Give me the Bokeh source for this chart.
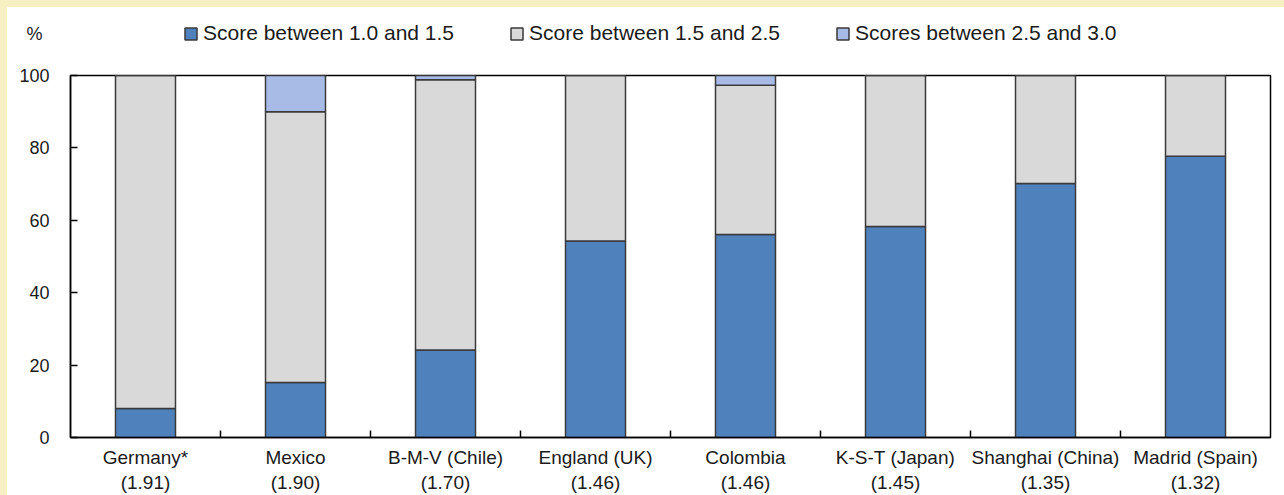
from bokeh.plotting import figure
from bokeh.models import (ColumnDataSource, Range1d, FixedTicker, Legend, LegendItem, Div)
from bokeh.layouts import column, row
from bokeh.embed import file_html
from bokeh.resources import INLINE

# ---- data ----
categories = ["Germany*", "Mexico", "B-M-V (Chile)", "England (UK)", "Colombia",
              "K-S-T (Japan)", "Shanghai (China)", "Madrid (Spain)"]
mean_scores = ["1.91", "1.90", "1.70", "1.46", "1.46", "1.45", "1.35", "1.32"]
score_10_15 = [8.0, 15.2, 24.2, 54.3, 56.1, 58.3, 70.2, 77.7]
score_15_25 = [92.0, 74.8, 74.6, 45.7, 41.2, 41.7, 29.8, 22.3]
score_25_30 = [0.0, 10.0, 1.2, 0.0, 2.7, 0.0, 0.0, 0.0]
series_labels = ["Score between 1.0 and 1.5", "Score between 1.5 and 2.5",
                 "Scores between 2.5 and 3.0"]
y_ticks = [0, 20, 40, 60, 80, 100]
unit_label = "%"

colors = ["#4F81BD", "#D9D9D9", "#A8BBE6"]
BAR_LINE = "#3a3a3a"
YELLOW = "#F7F0C2"
FONT = "Liberation Sans"
TXT = "#1a1a1a"

W = 1277
HDR_H = 58
MAIN_H = 488 - HDR_H

n = len(categories)
xpos = [i + 0.5 for i in range(n)]
src = ColumnDataSource(dict(x=xpos, a=score_10_15, b=score_15_25, c=score_25_30))

# ---- main chart ----
p = figure(width=W, height=MAIN_H, output_backend="svg", toolbar_location=None,
           x_range=Range1d(0, n), y_range=Range1d(0, 100),
           min_border_left=63, min_border_right=14, min_border_top=10,
           min_border_bottom=57)
p.background_fill_color = "white"
p.border_fill_color = "white"
p.outline_line_color = "black"
p.outline_line_width = 1.5
p.xgrid.visible = False
p.ygrid.visible = False

p.vbar_stack(["a", "b", "c"], x="x", width=0.4, source=src, color=colors,
             line_color=BAR_LINE, line_width=1.5)

p.xaxis.ticker = FixedTicker(ticks=xpos, minor_ticks=[i for i in range(1, n)])
p.xaxis.major_label_overrides = {x: f"{c}\n({s})" for x, c, s in zip(xpos, categories, mean_scores)}
p.xaxis.major_tick_line_color = None
p.xaxis.minor_tick_in = 7
p.xaxis.minor_tick_out = 0
p.xaxis.minor_tick_line_color = "black"
p.xaxis.minor_tick_line_width = 1.5
p.xaxis.axis_line_color = "black"
p.xaxis.axis_line_width = 1.5
p.xaxis.major_label_text_font = FONT
p.xaxis.major_label_text_font_size = "19px"
p.xaxis.major_label_text_color = TXT
p.xaxis.major_label_standoff = 3

p.yaxis.ticker = FixedTicker(ticks=y_ticks, minor_ticks=[])
p.yaxis.major_tick_in = 7
p.yaxis.major_tick_out = 0
p.yaxis.major_tick_line_color = "black"
p.yaxis.major_tick_line_width = 1.5
p.yaxis.axis_line_color = "black"
p.yaxis.axis_line_width = 1.5
p.yaxis.major_label_text_font = FONT
p.yaxis.major_label_text_font_size = "18px"
p.yaxis.major_label_text_color = TXT
p.yaxis.major_label_standoff = 21

# ---- header: legend and unit label ----
hdr = figure(width=W, height=HDR_H, output_backend="svg", toolbar_location=None,
             x_range=Range1d(0, n), y_range=Range1d(0, 100),
             x_axis_location=None, y_axis_location="left",
             min_border_left=63, min_border_right=14, min_border_top=0,
             min_border_bottom=6)
hdr.outline_line_color = None
hdr.xgrid.visible = False
hdr.ygrid.visible = False
hdr.background_fill_color = "white"
hdr.border_fill_color = "white"
hdr.yaxis.ticker = FixedTicker(ticks=[], minor_ticks=[])
hdr.yaxis.axis_line_color = None
hdr.yaxis.major_tick_line_color = None
hdr.yaxis.minor_tick_line_color = None
hdr.yaxis.major_tick_out = 0
hdr.yaxis.major_label_standoff = 0
hdr.yaxis.axis_label = unit_label
hdr.yaxis.axis_label_orientation = "horizontal"
hdr.yaxis.axis_label_standoff = 28
hdr.yaxis.axis_label_text_font = FONT
hdr.yaxis.axis_label_text_font_size = "18px"
hdr.yaxis.axis_label_text_font_style = "normal"
hdr.yaxis.axis_label_text_color = TXT

# legend swatches: same stacked renderers, kept hidden in the header
proxies = hdr.vbar_stack(["a", "b", "c"], x="x", width=0.4, source=src, color=colors,
                         line_color=BAR_LINE, line_width=1.5, visible=False)

legend = Legend(items=[LegendItem(label=l, renderers=[r]) for l, r in zip(series_labels, proxies)],
                orientation="horizontal", location=(113, 14),
                glyph_width=15, glyph_height=15, label_standoff=5, spacing=55,
                padding=0, margin=0, border_line_color=None, background_fill_alpha=0,
                inactive_fill_alpha=0,
                label_text_font=FONT, label_text_font_size="21px",
                label_text_color=TXT)
hdr.add_layout(legend, "center")

top_strip = Div(text="", width=1284, height=7, margin=0,
                styles={"background-color": YELLOW})
left_strip = Div(text="", width=7, height=488, margin=0,
                 styles={"background-color": YELLOW})
layout = column(top_strip, row(left_strip, column(hdr, p, spacing=0), spacing=0), spacing=0)

open("out.html", "w").write(file_html(layout, INLINE))
